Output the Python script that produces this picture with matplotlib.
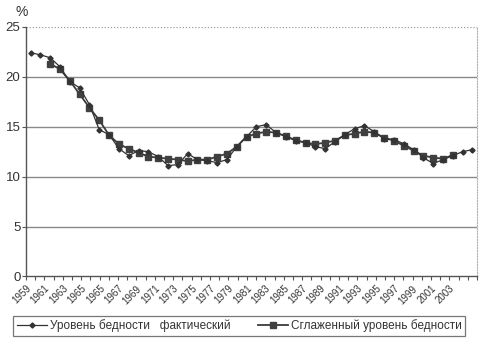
import numpy as np
import matplotlib
matplotlib.use("Agg")
import matplotlib.pyplot as plt
from matplotlib.lines import Line2D

plt.rcParams['font.family'] = ['Liberation Sans', 'DejaVu Sans']

years = list(range(1959, 2005))
actual = [22.4, 22.2, 21.9, 21.0, 19.5, 18.9, 17.2, 14.7, 14.2, 12.8,
          12.1, 12.6, 12.5, 12.0, 11.1, 11.2, 12.3, 11.7, 11.6, 11.4,
          11.7, 13.0, 14.0, 15.0, 15.2, 14.4, 14.0, 13.6, 13.4, 13.0,
          12.8, 13.5, 14.2, 14.8, 15.1, 14.5, 13.8, 13.7, 13.3, 12.7,
          11.9, 11.3, 11.7, 12.1, 12.5, 12.7]
smooth_years = list(range(1961, 2003))
smoothed = [21.3, 20.75, 19.6, 18.25, 16.9, 15.65, 14.15, 13.25, 12.8, 12.4,
            12.0, 11.9, 11.8, 11.7, 11.55, 11.7, 11.7, 12.0, 12.3, 13.0,
            14.0, 14.3, 14.5, 14.4, 14.05, 13.65, 13.4, 13.25, 13.4, 13.6,
            14.15, 14.3, 14.5, 14.4, 13.9, 13.6, 13.1, 12.6, 12.1, 11.9,
            11.8, 12.15]
xlabels = ['1959', '1961', '1963', '1965', '1965', '1967', '1969', '1971',
           '1973', '1975', '1977', '1979', '1981', '1983', '1985', '1987',
           '1989', '1991', '1993', '1995', '1997', '1999', '2001', '2003']
label_actual = 'Уровень бедности   фактический'
label_smooth = 'Сглаженный уровень бедности'

fig = plt.figure(figsize=(5.0, 3.48), dpi=100)
ax = fig.add_axes([0.052, 0.2055, 0.902, 0.7175])

line_col = '#333333'
ax.plot(years, actual, color=line_col, lw=0.9, marker='D', ms=2.6,
        mfc=line_col, mec=line_col, zorder=4)
ax.plot(smooth_years, smoothed, color='#3a3a3a', lw=1.3, marker='s', ms=4.2,
        mfc='#404040', mec='#404040', zorder=3)

xmin = years[0] - 0.46
xmax = years[-1] + 0.46
ax.set_xlim(xmin, xmax)
ax.set_ylim(0, 25)

# y grid
for v in [5, 10, 15, 20]:
    ax.axhline(v, color='#8a8a8a', lw=1.0, zorder=1)
ax.axhline(25, color='#9a9a9a', lw=0.9, ls=(0, (1, 1.5)), zorder=1)

ax.set_yticks([0, 5, 10, 15, 20, 25])
ax.set_yticklabels(['0', '5', '10', '15', '20', '25'], fontsize=9.5, color='#333333')

n_int = 49
tick_pos = [xmin + k * (xmax - xmin) / n_int for k in range(n_int + 1)]
ax.set_xticks(tick_pos)
labs = [''] * len(tick_pos)
for j, lab in enumerate(xlabels):
    labs[2 * j] = lab
ax.set_xticklabels(labs, fontsize=7, color='#333333', rotation=45,
                   ha='right', va='top', rotation_mode='anchor')
ax.tick_params(axis='x', length=3, width=0.8, color='#555555', pad=2)
ax.tick_params(axis='y', length=3, width=0.8, color='#555555', pad=1)

ax.spines['left'].set_color('#555555')
ax.spines['left'].set_linewidth(1.0)
ax.spines['bottom'].set_color('#555555')
ax.spines['bottom'].set_linewidth(1.0)
ax.spines['top'].set_visible(False)
ax.spines['right'].set_color('#b0b0b0')
ax.spines['right'].set_linewidth(0.8)
ax.spines['right'].set_linestyle((0, (1, 1.5)))

fig.text(0.032, 0.965, '%', fontsize=10, color='#333333', ha='left', va='center')

h1 = Line2D([], [], color=line_col, lw=0.9, marker='D', ms=2.6, mfc=line_col, mec=line_col)
h2 = Line2D([], [], color='#3a3a3a', lw=1.3, marker='s', ms=4.2, mfc='#404040', mec='#404040')
leg = fig.legend([h1, h2], [label_actual, label_smooth], loc='lower left',
                 bbox_to_anchor=(0.026, 0.0345, 0.904, 0.063), mode='expand',
                 ncol=2, fontsize=8.5, frameon=True, fancybox=False,
                 handlelength=2.6, handletextpad=0.2, borderpad=0.3,
                 columnspacing=3.0, borderaxespad=0)
leg.get_frame().set_edgecolor('#555555')
leg.get_frame().set_linewidth(0.9)
for t in leg.get_texts():
    t.set_color('#333333')

fig.savefig('out.png', dpi=100)
